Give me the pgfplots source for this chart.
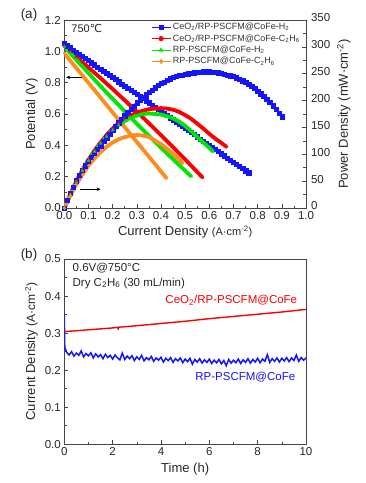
\documentclass[border=0pt]{standalone}
\usepackage{fontspec}
\setmainfont{Liberation Sans}
\newfontfamily\dejavu{DejaVu Sans}
\usepackage{pgfplots}
\pgfplotsset{compat=1.18}
\usetikzlibrary{arrows.meta}
\definecolor{myblue}{RGB}{20,20,255}
\definecolor{myred}{RGB}{250,0,0}
\definecolor{mygreen}{RGB}{0,230,0}
\definecolor{myorange}{RGB}{255,140,30}
\definecolor{axgray}{RGB}{70,70,70}
\pgfplotsset{
  common/.style={
    scale only axis,
    width=241.7pt,
    tick align=inside,
    axis line style={axgray, line width=0.8pt},
    tick style={axgray, line width=0.6pt},
    major tick length=4pt, minor tick length=2.5pt,
    tick label style={font=\fontsize{11.5}{12}\selectfont, text=black!85},
    label style={font=\fontsize{13}{14}\selectfont, text=black!85},
    /pgf/number format/assume math mode=true,
  },
  bl/.style={color=myblue, line width=2.2pt, mark=square*, mark size=2.1pt, mark options={solid, line width=0.3pt}},
  rd/.style={color=myred, line width=3.8pt, mark=*, mark size=1.6pt, mark options={line width=0.3pt}},
  gr/.style={color=mygreen, line width=3.8pt, mark=triangle*, mark size=1.6pt, mark options={line width=0.3pt}},
  orr/.style={color=myorange, line width=3.8pt, mark=diamond*, mark size=1.6pt, mark options={line width=0.3pt}},
}
\begin{document}
\begin{tikzpicture}
\useasboundingbox (-64.3pt,-275pt) rectangle (300.7pt,208pt);
\node[font=\fontsize{13.5}{14}\selectfont, text=black!85] at (-35.3pt,193pt) {(a)};
\node[font=\fontsize{13.5}{14}\selectfont, text=black!85] at (-35.3pt,-47pt) {(b)};
% ---------- top: potential ----------
\begin{axis}[common,
  at={(0pt,0pt)}, anchor=south west, height=188pt,
  xmin=0, xmax=1, ymin=0, ymax=1.2,
  xtick={0,0.1,0.2,0.3,0.4,0.5,0.6,0.7,0.8,0.9,1.0},
  ytick={0,0.2,0.4,0.6,0.8,1.0,1.2},
  minor x tick num=1, minor y tick num=1,
  xtick pos=bottom, ytick pos=left,
  xticklabel style={/pgf/number format/.cd, fixed, fixed zerofill, precision=1},
  yticklabel style={/pgf/number format/.cd, fixed, fixed zerofill, precision=1},
  xlabel={Current Density {\fontsize{11}{12}\selectfont(A·cm\textsuperscript{-2})}},
  ylabel={Potential (V)},
  legend style={at={(0.355,1.0)}, anchor=north west, draw=none, fill=none,
    font=\fontsize{9}{10}\selectfont, text=black!80, row sep=-0.6pt, inner sep=1pt},
  legend cell align=left,
  legend image code/.code={\draw[mark repeat=2,mark phase=2,#1,line width=0.9pt,mark size=2.4pt] plot coordinates {(0cm,0cm) (0.33cm,0cm) (0.66cm,0cm)};},
]
\addplot[bl] coordinates {(0,1.050)(0.0125,1.036)(0.025,1.023)(0.0375,1.009)(0.05,0.996)(0.0625,0.982)(0.075,0.969)(0.0875,0.955)(0.1,0.942)(0.1125,0.928)(0.125,0.915)(0.1375,0.901)(0.15,0.888)(0.1625,0.874)(0.175,0.861)(0.1875,0.847)(0.2,0.834)(0.2125,0.820)(0.225,0.807)(0.2375,0.793)(0.25,0.780)(0.2625,0.766)(0.275,0.753)(0.2875,0.739)(0.3,0.726)(0.3125,0.712)(0.325,0.699)(0.3375,0.685)(0.35,0.672)(0.3625,0.658)(0.375,0.645)(0.3875,0.631)(0.4,0.618)(0.4125,0.604)(0.425,0.591)(0.4375,0.577)(0.45,0.564)(0.4625,0.550)(0.475,0.537)(0.4875,0.523)(0.5,0.510)(0.5125,0.496)(0.525,0.482)(0.5375,0.469)(0.55,0.455)(0.5625,0.442)(0.575,0.428)(0.5875,0.415)(0.6,0.401)(0.6125,0.388)(0.625,0.374)(0.6375,0.361)(0.65,0.347)(0.6625,0.334)(0.675,0.320)(0.6875,0.307)(0.7,0.293)(0.7125,0.280)(0.725,0.266)(0.7375,0.253)(0.75,0.239)(0.7625,0.226)};
\addlegendentry{CeO\textsubscript{2}/RP-PSCFM@CoFe-H\textsubscript{2}}
\addplot[rd] coordinates {(0,1.030)(0.025,0.997)(0.05,0.964)(0.075,0.931)(0.1,0.897)(0.125,0.863)(0.15,0.829)(0.175,0.794)(0.2,0.759)(0.225,0.723)(0.25,0.688)(0.275,0.651)(0.3,0.615)(0.325,0.578)(0.35,0.541)(0.375,0.503)(0.4,0.465)(0.425,0.427)(0.45,0.388)(0.475,0.349)(0.5,0.310)(0.525,0.270)(0.55,0.230)(0.572,0.195)};
\addlegendentry{CeO\textsubscript{2}/RP-PSCFM@CoFe-C\textsubscript{2}H\textsubscript{6}}
\addplot[gr] coordinates {(0,1.030)(0.025,0.987)(0.05,0.945)(0.075,0.903)(0.1,0.861)(0.125,0.819)(0.15,0.778)(0.175,0.737)(0.2,0.697)(0.225,0.657)(0.25,0.617)(0.275,0.577)(0.3,0.538)(0.325,0.500)(0.35,0.461)(0.375,0.423)(0.4,0.385)(0.425,0.348)(0.45,0.311)(0.475,0.274)(0.5,0.238)(0.526,0.200)};
\addlegendentry{RP-PSCFM@CoFe-H\textsubscript{2}}
\addplot[orr] coordinates {(0,0.987)(0.025,0.940)(0.05,0.893)(0.075,0.846)(0.1,0.799)(0.125,0.752)(0.15,0.704)(0.175,0.657)(0.2,0.610)(0.225,0.563)(0.25,0.516)(0.275,0.469)(0.3,0.422)(0.325,0.375)(0.35,0.328)(0.375,0.281)(0.4,0.233)(0.423,0.190)};
\addlegendentry{RP-PSCFM@CoFe-C\textsubscript{2}H\textsubscript{6}}
\node[anchor=west, font=\fontsize{11}{12}\selectfont, text=black!85] at (rel axis cs:0.015,0.955) {750{\dejavu ℃}};
\draw[-{Stealth[length=4pt,width=3.5pt]}, line width=0.7pt] (axis cs:0.075,0.834) -- (axis cs:0.008,0.834);
\draw[-{Stealth[length=4pt,width=3.5pt]}, line width=0.7pt] (axis cs:0.065,0.12) -- (axis cs:0.15,0.12);
\end{axis}
% ---------- top: power density ----------
\begin{axis}[common,
  at={(0pt,0pt)}, anchor=south west, height=188pt,
  xmin=0, xmax=1, ymin=0, ymax=350,
  axis x line=none, axis y line*=right,
  ytick={0,50,100,150,200,250,300,350}, minor y tick num=1,
  yticklabel style={yshift=2pt, xshift=1.5pt},
  ylabel={Power Density (mW·cm\textsuperscript{-2})},
]
\addplot[bl] coordinates {(0,0)(0.0125,14)(0.025,27)(0.0375,39)(0.05,51)(0.0625,61)(0.075,70)(0.0875,79)(0.1,87)(0.1125,95)(0.125,102)(0.1375,109)(0.15,116)(0.1625,124)(0.175,131)(0.1875,138)(0.2,145)(0.2125,152)(0.225,159)(0.2375,166)(0.25,172)(0.2625,178)(0.275,184)(0.2875,190)(0.3,196)(0.3125,201)(0.325,206)(0.3375,211)(0.35,216)(0.3625,220)(0.375,224)(0.3875,228)(0.4,232)(0.4125,235)(0.425,238)(0.4375,241)(0.45,243)(0.4625,245)(0.475,247)(0.4875,248)(0.5,249)(0.5125,250)(0.525,251)(0.5375,252)(0.55,253)(0.5625,253.5)(0.575,254)(0.5875,254)(0.6,254)(0.6125,253.5)(0.625,253)(0.6375,252)(0.65,251)(0.6625,249.5)(0.675,248)(0.6875,246.5)(0.7,245)(0.7125,242.5)(0.725,240)(0.7375,237)(0.75,234)(0.7625,230.5)(0.775,227)(0.7875,222.5)(0.8,218)(0.8125,213)(0.825,208)(0.8375,202.5)(0.85,197)(0.8625,190.5)(0.875,184)(0.8875,177)(0.9,170)};
\addplot[rd] coordinates {(0,0)(0.025,26)(0.05,50)(0.075,71)(0.1,90)(0.125,107)(0.15,122)(0.175,136)(0.2,148)(0.225,158)(0.25,166)(0.275,172)(0.3,178)(0.325,181)(0.35,184)(0.375,185)(0.4,186)(0.425,185)(0.45,183)(0.475,179)(0.5,173)(0.525,166)(0.55,157)(0.575,148)(0.6,138)(0.625,129)(0.65,121)(0.671,114)};
\addplot[gr] coordinates {(0,0)(0.025,25)(0.05,48)(0.075,69)(0.1,88)(0.125,105)(0.15,120)(0.175,133)(0.2,145)(0.225,154)(0.25,162)(0.275,168)(0.3,172)(0.325,175)(0.35,176)(0.375,175)(0.4,174)(0.425,171)(0.45,167)(0.475,161)(0.5,153)(0.525,143)(0.55,132)(0.575,122)(0.6,112)(0.616,105)};
\addplot[orr] coordinates {(0,0)(0.025,23)(0.05,44)(0.075,62)(0.1,79)(0.125,92)(0.15,104)(0.175,114)(0.2,122)(0.225,128)(0.25,132)(0.275,135)(0.3,136)(0.325,135)(0.35,132)(0.375,126)(0.4,119)(0.425,110)(0.45,101)(0.475,90)(0.49,83)};
\end{axis}
% ---------- bottom: stability ----------
\begin{axis}[common,
  at={(0pt,-236.3pt)}, anchor=south west, height=185.3pt,
  xmin=0, xmax=10, ymin=0, ymax=0.5,
  xtick={0,2,4,6,8,10}, minor x tick num=1,
  ytick={0,0.1,0.2,0.3,0.4,0.5}, minor y tick num=1,
  xtick pos=bottom, ytick pos=left,
  yticklabel style={/pgf/number format/.cd, fixed, fixed zerofill, precision=1},
  xlabel={Time (h)},
  ylabel={Current Density {\fontsize{12}{12}\selectfont(A·cm\textsuperscript{-2})}},
]
\addplot[color=myblue, line width=1.5pt] coordinates {(0,0.352)(0.02,0.262)(0.1,0.248)(0.2,0.241)(0.3,0.250)(0.4,0.238)(0.5,0.246)(0.6,0.240)(0.7,0.252)(0.8,0.236)(0.9,0.245)(1.0,0.239)(1.1,0.247)(1.2,0.233)(1.3,0.244)(1.4,0.236)(1.5,0.242)(1.6,0.231)(1.7,0.243)(1.8,0.234)(1.9,0.240)(2.0,0.230)(2.1,0.241)(2.2,0.233)(2.3,0.228)(2.4,0.246)(2.5,0.229)(2.6,0.238)(2.7,0.231)(2.8,0.239)(2.9,0.226)(3.0,0.236)(3.1,0.229)(3.2,0.240)(3.3,0.225)(3.4,0.234)(3.5,0.228)(3.6,0.237)(3.7,0.224)(3.8,0.233)(3.9,0.227)(4.0,0.235)(4.1,0.222)(4.2,0.232)(4.3,0.226)(4.4,0.234)(4.5,0.221)(4.6,0.231)(4.7,0.225)(4.8,0.233)(4.9,0.220)(5.0,0.230)(5.1,0.223)(5.2,0.232)(5.3,0.216)(5.4,0.229)(5.5,0.222)(5.6,0.231)(5.7,0.219)(5.8,0.228)(5.9,0.221)(6.0,0.230)(6.1,0.218)(6.2,0.227)(6.3,0.220)(6.4,0.229)(6.5,0.217)(6.6,0.226)(6.7,0.212)(6.8,0.229)(6.9,0.219)(7.0,0.227)(7.1,0.220)(7.2,0.230)(7.3,0.218)(7.4,0.228)(7.5,0.221)(7.6,0.231)(7.7,0.219)(7.8,0.229)(7.9,0.222)(8.0,0.232)(8.1,0.220)(8.2,0.230)(8.3,0.224)(8.4,0.242)(8.5,0.221)(8.6,0.231)(8.7,0.224)(8.8,0.233)(8.9,0.222)(9.0,0.232)(9.1,0.225)(9.2,0.234)(9.3,0.223)(9.4,0.233)(9.5,0.226)(9.6,0.241)(9.7,0.224)(9.8,0.234)(9.9,0.227)(10.0,0.233)};
\addplot[color=myred, line width=1.4pt] coordinates {(0,0.304)(1,0.309)(2,0.314)(2.2,0.3155)(2.23,0.3115)(2.26,0.316)(3,0.320)(4,0.326)(5,0.332)(6,0.339)(7,0.345)(8,0.351)(9,0.357)(10,0.364)};
\node[anchor=west, font=\fontsize{11.5}{12}\selectfont, text=black!85] at (rel axis cs:0.02,0.951) {0.6V@750°C};
\node[anchor=west, font=\fontsize{11.5}{12}\selectfont, text=black!85] at (rel axis cs:0.02,0.870) {Dry C\textsubscript{2}H\textsubscript{6} (30 mL/min)};
\node[anchor=east, font=\fontsize{11.5}{12}\selectfont, text=myred] at (rel axis cs:0.978,0.779) {CeO\textsubscript{2}/RP-PSCFM@CoFe};
\node[anchor=east, font=\fontsize{11.5}{12}\selectfont, text=myblue] at (rel axis cs:0.97,0.363) {RP-PSCFM@CoFe};
\end{axis}
\end{tikzpicture}
\end{document}
